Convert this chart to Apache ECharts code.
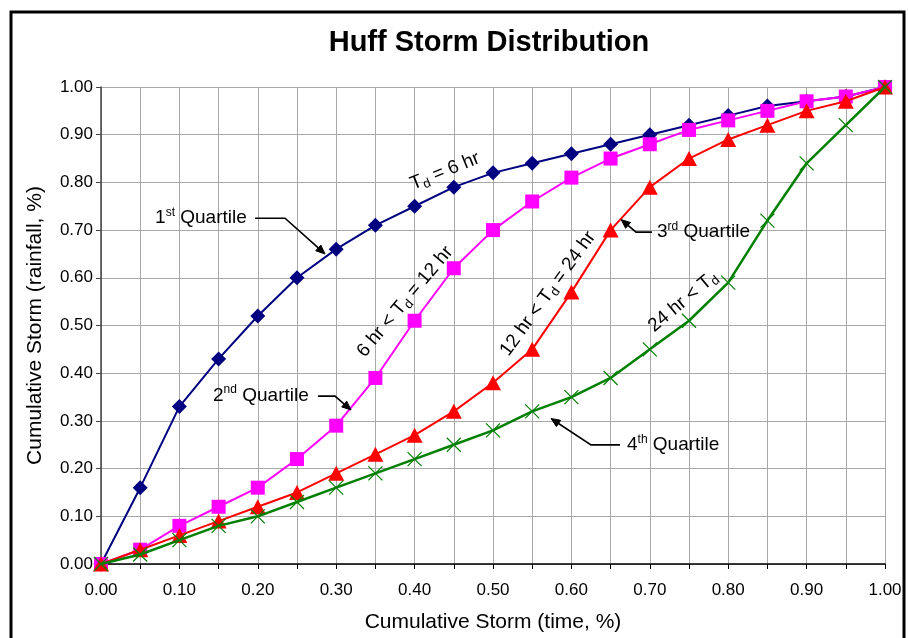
<!DOCTYPE html>
<html>
<head>
<meta charset="utf-8">
<script src="https://cdn.jsdelivr.net/npm/echarts@6/dist/echarts.min.js"></script>
<style>
html,body{margin:0;padding:0;background:#fff;}
#c{width:908px;height:638px;}
</style>
</head>
<body>
<div id="c"></div>
<script>
// ---- data ----
const timeFractions = [0.00,0.05,0.10,0.15,0.20,0.25,0.30,0.35,0.40,0.45,0.50,0.55,0.60,0.65,0.70,0.75,0.80,0.85,0.90,0.95,1.00];
const firstQuartile  = [0.00,0.16,0.33,0.43,0.52,0.60,0.66,0.71,0.75,0.79,0.82,0.84,0.86,0.88,0.90,0.92,0.94,0.96,0.97,0.98,1.00];
const secondQuartile = [0.00,0.03,0.08,0.12,0.16,0.22,0.29,0.39,0.51,0.62,0.70,0.76,0.81,0.85,0.88,0.91,0.93,0.95,0.97,0.98,1.00];
const thirdQuartile  = [0.00,0.03,0.06,0.09,0.12,0.15,0.19,0.23,0.27,0.32,0.38,0.45,0.57,0.70,0.79,0.85,0.89,0.92,0.95,0.97,1.00];
const fourthQuartile = [0.00,0.02,0.05,0.08,0.10,0.13,0.16,0.19,0.22,0.25,0.28,0.32,0.35,0.39,0.45,0.51,0.59,0.72,0.84,0.92,1.00];
const xTickLabels = ['0.00','','0.10','','0.20','','0.30','','0.40','','0.50','','0.60','','0.70','','0.80','','0.90','','1.00'];
const yTickLabels = ['0.00','0.10','0.20','0.30','0.40','0.50','0.60','0.70','0.80','0.90','1.00'];
const seriesNames = ['1st Quartile','2nd Quartile','3rd Quartile','4th Quartile'];
const chartTitle = 'Huff Storm Distribution';
const xAxisTitle = 'Cumulative Storm (time, %)';
const yAxisTitle = 'Cumulative Storm (rainfall, %)';

// ---- annotation layout (in data coordinates) ----
const FONT = '"Liberation Sans", Arial, Helvetica, sans-serif';
const quartileNotes = [
  {text:'1{sup|st} Quartile', at:[0.069,0.725], arrow:[[0.1964,0.725],[0.2347,0.725],[0.2857,0.650]]},
  {text:'2{sup|nd} Quartile', at:[0.1429,0.3537], arrow:[[0.2768,0.352],[0.2985,0.352],[0.3189,0.323]]},
  {text:'3{sup|rd} Quartile', at:[0.7092,0.6958], arrow:[[0.7028,0.6958],[0.6824,0.6958],[0.6635,0.722]]},
  {text:'4{sup|th} Quartile', at:[0.6709,0.2497], arrow:[[0.6620,0.2497],[0.6250,0.2497],[0.5740,0.305]]}
];
const durationNotes = [
  {text:'T{sub|d} = 6 hr', at:[0.4388,0.8233], rot:22},
  {text:'6 hr < T{sub|d} = 12 hr', at:[0.3878,0.5500], rot:50},
  {text:'12 hr < T{sub|d} = 24 hr', at:[0.5702,0.5667], rot:54},
  {text:'24 hr < T{sub|d}', at:[0.7423,0.5500], rot:40}
];

function pairs(ys){ return timeFractions.map((x,i)=>[x, ys[i]]); }

const chart = echarts.init(document.getElementById('c'), null, {renderer:'canvas', width:908, height:638});

const option = {
  animation:false,
  backgroundColor:'#ffffff',
  textStyle:{fontFamily:FONT},
  title:{
    text:chartTitle, left:489, top:28, textAlign:'center', padding:0,
    textStyle:{fontFamily:FONT, fontSize:29, fontWeight:'bold', color:'#000'}
  },
  grid:{left:101, right:23, top:87, bottom:71},
  xAxis:{
    type:'value', min:0, max:1, interval:0.05,
    name:xAxisTitle, nameLocation:'middle', nameGap:48,
    nameTextStyle:{fontFamily:FONT, fontSize:21, color:'#000'},
    axisLine:{show:true, onZero:false, lineStyle:{color:'#000', width:1.5}},
    axisTick:{show:true, length:5, lineStyle:{color:'#000', width:1}},
    axisLabel:{fontFamily:FONT, fontSize:17, color:'#000', margin:18,
      showMinLabel:true, showMaxLabel:true, hideOverlap:false,
      formatter:function(v){ return xTickLabels[Math.round(v/0.05)] || ''; }},
    splitLine:{show:true, lineStyle:{color:'#a8a8a8', width:1}}
  },
  yAxis:{
    type:'value', min:0, max:1, interval:0.1,
    name:yAxisTitle, nameLocation:'middle', nameGap:55, nameRotate:90,
    nameTextStyle:{fontFamily:FONT, fontSize:21, color:'#000'},
    axisLine:{show:true, onZero:false, lineStyle:{color:'#444', width:1.5}},
    axisTick:{show:true, length:5, lineStyle:{color:'#444', width:1}},
    axisLabel:{fontFamily:FONT, fontSize:17, color:'#000', margin:8,
      showMinLabel:true, showMaxLabel:true,
      formatter:function(v){ return yTickLabels[Math.round(v/0.1)]; }},
    splitLine:{show:true, lineStyle:{color:'#a8a8a8', width:1}}
  },
  series:[
    {name:seriesNames[0], type:'line', data:pairs(firstQuartile), symbol:'diamond', symbolSize:[15,15],
     lineStyle:{color:'#000080', width:2}, itemStyle:{color:'#000080'}, z:2},
    {name:seriesNames[1], type:'line', data:pairs(secondQuartile), symbol:'rect', symbolSize:14,
     lineStyle:{color:'#ff00ff', width:2}, itemStyle:{color:'#ff00ff'}, z:3},
    {name:seriesNames[2], type:'line', data:pairs(thirdQuartile), symbol:'triangle', symbolSize:[16,15],
     lineStyle:{color:'#ff0000', width:2}, itemStyle:{color:'#ff0000'}, z:4},
    {name:seriesNames[3], type:'line', data:pairs(fourthQuartile), symbol:'path://M0,0L10,10M10,0L0,10', symbolSize:14,
     lineStyle:{color:'#008000', width:2.5}, itemStyle:{color:'#008000', borderColor:'#008000', borderWidth:1.2}, z:5}
  ]
};
chart.setOption(option);

function P(pt){ return chart.convertToPixel({gridIndex:0}, pt); }

const graphics = [];
// outer chart border
graphics.push({type:'rect', silent:true, z:100,
  shape:{x:11, y:12, width:893, height:700},
  style:{fill:'none', stroke:'#000', lineWidth:3}});

const rich = {
  sup:{fontSize:12, fontFamily:FONT, fill:'#000', verticalAlign:'top', lineHeight:12},
  sub:{fontSize:13, fontFamily:FONT, fill:'#000', verticalAlign:'bottom', lineHeight:13}
};

quartileNotes.forEach(function(n){
  const p = P(n.at);
  graphics.push({type:'text', x:p[0], y:p[1], z:50, silent:true,
    style:{text:n.text, fontSize:19, fontFamily:FONT, fill:'#000', lineHeight:23,
      align:'left', verticalAlign:'middle', textAlign:'left', textVerticalAlign:'middle', rich:rich}});
  const pts = n.arrow.map(P);
  const m = pts.length;
  const a = pts[m-2], b = pts[m-1];
  const ang = Math.atan2(b[1]-a[1], b[0]-a[0]);
  const L = 9, W = 3.8;
  const bx = b[0]-L*Math.cos(ang), by = b[1]-L*Math.sin(ang);
  const px = -Math.sin(ang)*W, py = Math.cos(ang)*W;
  const linePts = pts.slice(0, m-1).concat([[bx,by]]);
  graphics.push({type:'polyline', z:50, silent:true, shape:{points:linePts},
    style:{stroke:'#000', lineWidth:1.6, fill:null}});
  graphics.push({type:'polygon', z:50, silent:true,
    shape:{points:[[b[0],b[1]],[bx+px,by+py],[bx-px,by-py]]},
    style:{fill:'#000', stroke:'#000', lineWidth:1}});
});

durationNotes.forEach(function(n){
  const p = P(n.at);
  graphics.push({type:'text', x:p[0], y:p[1], rotation:n.rot*Math.PI/180, z:50, silent:true,
    style:{text:n.text, fontSize:19, fontFamily:FONT, fill:'#000', lineHeight:23,
      align:'center', verticalAlign:'middle', textAlign:'center', textVerticalAlign:'middle', rich:rich}});
});

chart.setOption({graphic:{elements:graphics}});
</script>
</body>
</html>
